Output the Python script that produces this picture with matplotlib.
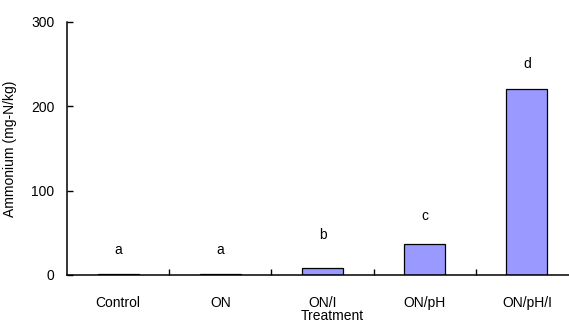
import matplotlib
matplotlib.use("Agg")
import numpy as np
import matplotlib.pyplot as plt

# Ammonium by treatment
treatments = ["Control", "ON", "ON/I", "ON/pH", "ON/pH/I"]
ammonium   = [1, 1, 8, 37, 221]
letters    = ["a", "a", "b", "c", "d"]
letter_y   = [30, 30, 47, 70, 250]

plt.rcParams["font.family"] = ["Liberation Sans", "DejaVu Sans"]
plt.rcParams["font.size"] = 10

W, H = 569, 323
fig = plt.figure(figsize=(W / 100, H / 100), dpi=100)
ax = fig.add_axes([67 / W, 48 / H, (578 - 67) / W, (275 - 22) / H])

x = np.arange(len(treatments))
ax.bar(x, ammonium, width=0.4, color="#9999FF", edgecolor="black", linewidth=0.9)

for xi, lab, ly in zip(x, letters, letter_y):
    ax.text(xi, ly, lab, ha="center", va="center", fontsize=10)

ax.set_xlim(-0.5, len(treatments) - 0.5)
ax.set_ylim(0, 300)
ax.set_yticks([0, 100, 200, 300])
ax.tick_params(axis="y", direction="in", length=4, width=1, pad=9)

# category boundaries get ticks, labels sit at centres
ax.set_xticks(np.arange(0.5, len(treatments) - 0.5, 1.0))
ax.set_xticklabels([])
ax.set_xticks(x, minor=True)
ax.set_xticklabels(treatments, minor=True)
ax.tick_params(axis="x", which="major", direction="in", length=4, width=1)
ax.tick_params(axis="x", which="minor", length=0, pad=15)

for side in ["top", "right"]:
    ax.spines[side].set_visible(False)
for side in ["left", "bottom"]:
    ax.spines[side].set_linewidth(1.1)

ax.set_ylabel("Ammonium (mg-N/kg)")
ax.yaxis.set_label_coords(-50 / (578 - 67), 0.5)
ax.set_xlabel("Treatment")
ax.xaxis.set_label_coords((332 - 67) / (578 - 67), -(316 - 275) / (275 - 22))
ax.xaxis.label.set_va("center")

fig.savefig("out.png", dpi=100)
